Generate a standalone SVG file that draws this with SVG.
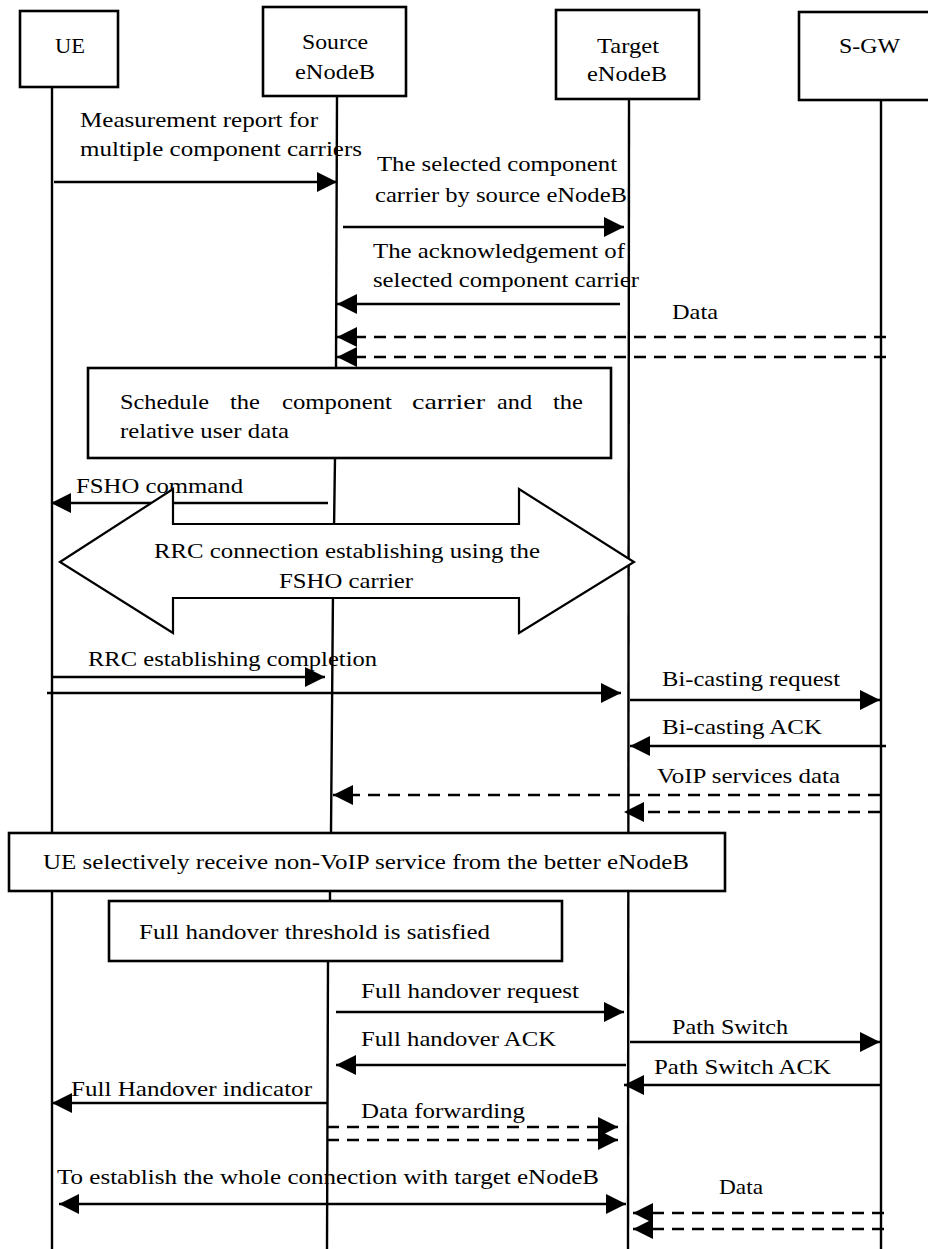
<svg xmlns="http://www.w3.org/2000/svg" width="928" height="1249" viewBox="0 0 928 1249">
  <style>
    text { font-family: "Liberation Serif", "Times New Roman", serif; font-size: 22px; fill: #000; }
    .box { fill: #fff; stroke: #000; stroke-width: 2.6; }
    .life { fill: none; stroke: #000; stroke-width: 2.4; }
    .msg { fill: none; stroke: #000; stroke-width: 2.6; marker-end: url(#head); }
    .dash { fill: none; stroke: #000; stroke-width: 2.6; stroke-dasharray: 12 8; marker-end: url(#head); }
    .both { fill: none; stroke: #000; stroke-width: 2.6; marker-start: url(#head); marker-end: url(#head); }
    .big { fill: #fff; stroke: #000; stroke-width: 2.2; stroke-linejoin: miter; }
  </style>
  <defs>
    <marker id="head" markerUnits="userSpaceOnUse" markerWidth="21" markerHeight="21" refX="20" refY="10" orient="auto-start-reverse">
      <path d="M0,0 L20,10 L0,20 Z" fill="#000"/>
    </marker>
  </defs>
  <rect width="928" height="1249" fill="#fff"/>

  <!-- lifelines -->
  <g id="lifelines">
    <path class="life" d="M52,87 L52,1249"/>
    <path class="life" d="M337,96 L336,368 M335,458 L334,530 M333,590 L331,833 M330,891 L330,901 M328,961 L327,1249"/>
    <path class="life" d="M629,99 L628,1249"/>
    <path class="life" d="M881,100 L881,1249"/>
  </g>

  <!-- participants -->
  <g id="ue">
    <rect class="box" x="20" y="11" width="98" height="76"/>
    <text x="55" y="53" textLength="30" lengthAdjust="spacingAndGlyphs">UE</text>
  </g>
  <g id="source-enodeb">
    <rect class="box" x="263" y="7" width="143" height="89"/>
    <text x="302" y="49" textLength="66" lengthAdjust="spacingAndGlyphs">Source</text>
    <text x="295" y="79" textLength="80" lengthAdjust="spacingAndGlyphs">eNodeB</text>
  </g>
  <g id="target-enodeb">
    <rect class="box" x="556" y="10" width="143" height="89"/>
    <text x="597" y="53" textLength="62" lengthAdjust="spacingAndGlyphs">Target</text>
    <text x="587" y="81" textLength="80" lengthAdjust="spacingAndGlyphs">eNodeB</text>
  </g>
  <g id="s-gw">
    <rect class="box" x="799" y="12" width="135" height="88"/>
    <text x="839" y="53" textLength="61" lengthAdjust="spacingAndGlyphs">S-GW</text>
  </g>

  <!-- connectors -->
  <g id="connectors">
    <path class="msg" d="M54,182 L337,182"/>
    <path class="msg" d="M343,227 L624,227"/>
    <path class="msg" d="M620,304 L337,304"/>
    <path class="dash" d="M886,337 L337,337"/>
    <path class="dash" d="M886,357 L337,357"/>
    <path class="msg" d="M328,503 L51,503"/>
    <path class="msg" d="M52,677 L325,677"/>
    <path class="msg" d="M47,693 L621,693"/>
    <path class="msg" d="M630,700 L880,700"/>
    <path class="msg" d="M886,746 L630,746"/>
    <path class="dash" d="M880,795 L333,795"/>
    <path class="dash" d="M880,812 L624,812"/>
    <path class="msg" d="M336,1012 L624,1012"/>
    <path class="msg" d="M630,1042 L880,1042"/>
    <path class="msg" d="M626,1065 L336,1065"/>
    <path class="msg" d="M882,1085 L624,1085"/>
    <path class="msg" d="M327,1103 L52,1103"/>
    <path class="dash" d="M327,1127 L618,1127"/>
    <path class="dash" d="M327,1140 L618,1140"/>
    <path class="both" d="M59,1204 L626,1204"/>
    <path class="dash" d="M884,1213 L633,1213"/>
    <path class="dash" d="M884,1229 L633,1229"/>
  </g>

  <!-- message labels -->
  <g id="labels">
    <text x="80" y="127" textLength="238" lengthAdjust="spacingAndGlyphs">Measurement report for</text>
    <text x="80" y="156" textLength="282" lengthAdjust="spacingAndGlyphs">multiple component carriers</text>
    <text x="377" y="171" textLength="240" lengthAdjust="spacingAndGlyphs">The selected component</text>
    <text x="375" y="202" textLength="252" lengthAdjust="spacingAndGlyphs">carrier by source eNodeB</text>
    <text x="373" y="258" textLength="252" lengthAdjust="spacingAndGlyphs">The acknowledgement of</text>
    <text x="373" y="287" textLength="266" lengthAdjust="spacingAndGlyphs">selected component carrier</text>
    <text x="672" y="319" textLength="46" lengthAdjust="spacingAndGlyphs">Data</text>
    <text x="76" y="493" textLength="167" lengthAdjust="spacingAndGlyphs">FSHO command</text>
    <text x="88" y="666" textLength="289" lengthAdjust="spacingAndGlyphs">RRC establishing completion</text>
    <text x="662" y="686" textLength="178" lengthAdjust="spacingAndGlyphs">Bi-casting request</text>
    <text x="662" y="734" textLength="160" lengthAdjust="spacingAndGlyphs">Bi-casting ACK</text>
    <text x="657" y="783" textLength="183" lengthAdjust="spacingAndGlyphs">VoIP services data</text>
    <text x="361" y="998" textLength="218" lengthAdjust="spacingAndGlyphs">Full handover request</text>
    <text x="672" y="1034" textLength="116" lengthAdjust="spacingAndGlyphs">Path Switch</text>
    <text x="361" y="1046" textLength="195" lengthAdjust="spacingAndGlyphs">Full handover ACK</text>
    <text x="654" y="1074" textLength="177" lengthAdjust="spacingAndGlyphs">Path Switch ACK</text>
    <text x="71" y="1096" textLength="241" lengthAdjust="spacingAndGlyphs">Full Handover indicator</text>
    <text x="361" y="1118" textLength="164" lengthAdjust="spacingAndGlyphs">Data forwarding</text>
    <text x="57" y="1184" textLength="542" lengthAdjust="spacingAndGlyphs">To establish the whole connection with target eNodeB</text>
    <text x="719" y="1194" textLength="44" lengthAdjust="spacingAndGlyphs">Data</text>
  </g>

  <!-- process boxes -->
  <g id="schedule">
    <rect class="box" x="88" y="368" width="523" height="90"/>
    <text x="120" y="409" textLength="89" lengthAdjust="spacingAndGlyphs">Schedule</text>
    <text x="230" y="409" textLength="30" lengthAdjust="spacingAndGlyphs">the</text>
    <text x="282" y="409" textLength="110" lengthAdjust="spacingAndGlyphs">component</text>
    <text x="412" y="409" textLength="73" lengthAdjust="spacingAndGlyphs">carrier</text>
    <text x="497" y="409" textLength="35" lengthAdjust="spacingAndGlyphs">and</text>
    <text x="553" y="409" textLength="30" lengthAdjust="spacingAndGlyphs">the</text>
    <text x="120" y="438" textLength="169" lengthAdjust="spacingAndGlyphs">relative user data</text>
  </g>

  <g id="rrc-connection">
    <polygon class="big" points="60,562 173,489 173,524 519,524 519,489 634,562 519,633 519,598 173,598 173,633"/>
    <text x="154" y="558" textLength="386" lengthAdjust="spacingAndGlyphs">RRC connection establishing using the</text>
    <text x="279" y="588" textLength="134" lengthAdjust="spacingAndGlyphs">FSHO carrier</text>
  </g>

  <g id="selective-receive">
    <rect class="box" x="9" y="833" width="716" height="58"/>
    <text x="43" y="869" textLength="646" lengthAdjust="spacingAndGlyphs">UE selectively receive non-VoIP service from the better eNodeB</text>
  </g>

  <g id="threshold">
    <rect class="box" x="109" y="901" width="453" height="60"/>
    <text x="139" y="939" textLength="351" lengthAdjust="spacingAndGlyphs">Full handover threshold is satisfied</text>
  </g>
</svg>
